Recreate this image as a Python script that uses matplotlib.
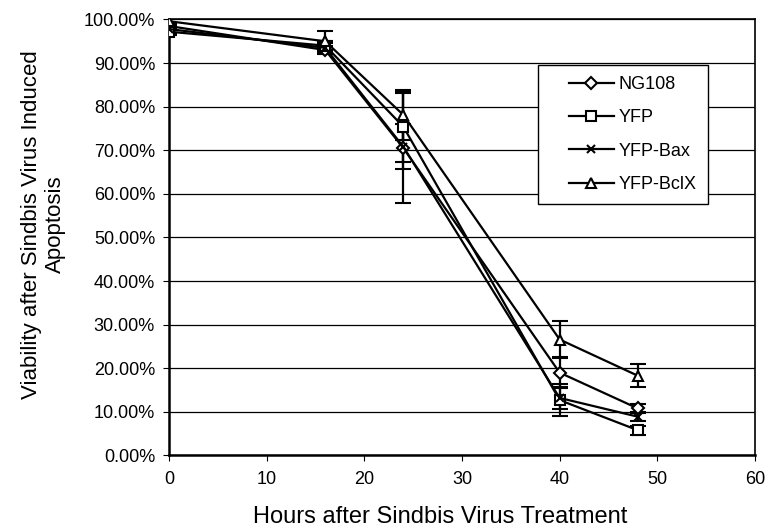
import matplotlib.pyplot as plt
from matplotlib.lines import Line2D
from matplotlib.legend_handler import HandlerLine2D
from matplotlib.ticker import PercentFormatter

plt.rcParams['font.family'] = ['Liberation Sans', 'DejaVu Sans']

hours = [0, 16, 24, 40, 48]
series = ['NG108', 'YFP', 'YFP-Bax', 'YFP-BclX']
markers = ['D', 's', 'x', '^']
msizes = [6, 7, 6, 7]

# viability (%) per series
ng108 = [98.5, 93.0, 70.5, 19.0, 10.8]
yfp = [97.2, 94.0, 75.4, 12.7, 5.8]
yfp_bax = [97.8, 93.5, 70.8, 13.2, 8.9]
yfp_bclx = [99.6, 95.0, 78.1, 26.6, 18.3]

# error bars
ng108_err = [0.8, 1.0, 12.7, 3.5, 1.0]
yfp_err = [0.8, 1.0, 8.0, 3.6, 1.0]
yfp_bax_err = [0.8, 1.0, 5.2, 2.5, 1.0]
yfp_bclx_err = [0.8, 2.3, 5.8, 4.2, 2.7]

values = [ng108, yfp, yfp_bax, yfp_bclx]
errors = [ng108_err, yfp_err, yfp_bax_err, yfp_bclx_err]

fig = plt.figure(figsize=(7.66, 5.31), dpi=100)
ax = fig.add_axes([0.2206, 0.1422, 0.765, 0.8211])

handles = []
for name, m, ms, v, e in zip(series, markers, msizes, values, errors):
    ax.errorbar(hours, v, yerr=e, color='black', lw=1.6, marker=m, ms=ms,
                mfc='white', mec='black', mew=1.5, capsize=5.5, capthick=1.6,
                elinewidth=1.6, zorder=3)
    handles.append(Line2D([], [], color='black', lw=1.6, marker=m, ms=ms,
                          mfc='white', mec='black', mew=1.5, label=name))

ax.set_xlim(0, 60)
ax.set_ylim(0, 100)
ax.set_xticks(range(0, 61, 10))
ax.set_yticks(range(0, 101, 10))
ax.yaxis.set_major_formatter(PercentFormatter(decimals=2))
ax.yaxis.grid(True, color='black', lw=0.9)
ax.set_axisbelow(True)
for s in ax.spines.values():
    s.set_color('black')
    s.set_linewidth(1.2)
ax.spines['left'].set_linewidth(1.8)
ax.spines['bottom'].set_linewidth(1.8)
ax.tick_params(labelsize=13, length=4, direction='out', color='black')
ax.tick_params(axis='y', pad=6)
ax.tick_params(axis='x', pad=7)

ax.set_xlabel('Hours after Sindbis Virus Treatment', fontsize=17)
ax.xaxis.set_label_coords(0.4625, -0.115)
ax.set_ylabel('Viability after Sindbis Virus Induced\nApoptosis', fontsize=16)
ax.yaxis.set_label_coords(-0.175, 0.53)

leg = ax.legend(handles=handles, loc='upper left', bbox_to_anchor=(0.63, 0.8956),
                borderaxespad=0, fontsize=13, frameon=True, fancybox=False,
                edgecolor='black', framealpha=1, handlelength=3.58,
                labelspacing=0.9, borderpad=0.62, handletextpad=0.27,
                handler_map={Line2D: HandlerLine2D(xpad=1.07)})
leg.get_frame().set_linewidth(1.0)

fig.savefig('out.png', dpi=100)
